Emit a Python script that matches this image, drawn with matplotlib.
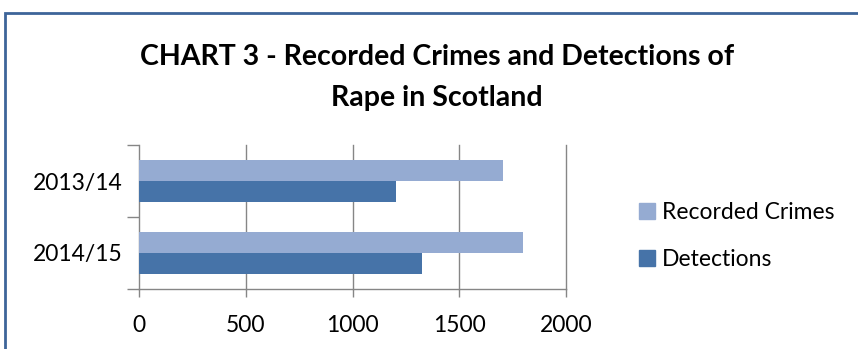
import numpy as np
import matplotlib.pyplot as plt
from matplotlib.patches import Rectangle, Patch

# data
years = ['2013/14', '2014/15']
recorded = [1707, 1797]
detections = [1205, 1325]
xticks = [0, 500, 1000, 1500, 2000]

c_rec = '#95abd2'
c_det = '#4673a8'
grid_c = '#868686'

plt.rcParams['font.family'] = ['Lato', 'DejaVu Sans']

fig = plt.figure(figsize=(8.58, 3.49), dpi=100)
W, H = 858, 349

# outer chart border (runs off right/bottom edge)
fig.patches.append(Rectangle((5 / W, -0.05), 1.1, 1 - 13 / H + 0.05,
                             transform=fig.transFigure, fill=False,
                             edgecolor='#3d6599', linewidth=2.0))

ax = fig.add_axes([139 / W, 1 - 289 / H, (566 - 139) / W, (289 - 145) / H])

pos = np.arange(len(years))[::-1]  # top category first
h = 0.2875
ax.barh(pos + h / 2, recorded, height=h, color=c_rec, zorder=3,
        label='Recorded Crimes')
ax.barh(pos - h / 2, detections, height=h, color=c_det, zorder=3,
        label='Detections')

ax.set_xlim(0, 2000)
ax.set_ylim(-0.5, 1.5)
ax.set_xticks(xticks)
ax.set_xticklabels([str(v) for v in xticks], fontsize=16.5)
for v in xticks[1:]:
    ax.axvline(v, color=grid_c, linewidth=1, zorder=1, clip_on=False)

ax.set_yticks([-0.5, 0.5, 1.5])
ax.set_yticklabels([])
ax.set_yticks(pos, minor=True)
ax.set_yticklabels(years, minor=True, fontsize=16.5)
ax.tick_params(axis='y', which='minor', length=0, pad=12)
ax.tick_params(axis='y', which='major', length=9, color=grid_c, width=1)
ax.tick_params(axis='x', length=6, color=grid_c, width=1, pad=13)

for s in ['top', 'right']:
    ax.spines[s].set_visible(False)
for s in ['left', 'bottom']:
    ax.spines[s].set_color(grid_c)
    ax.spines[s].set_linewidth(1)

fig.text(437 / W, 1 - 57 / H, 'CHART 3 - Recorded Crimes and Detections of',
         ha='center', va='center', fontsize=20.5, fontweight='bold')
fig.text(437 / W, 1 - 98 / H, 'Rape in Scotland',
         ha='center', va='center', fontsize=20.5, fontweight='bold')

handles = [Patch(color=c_rec, label='Recorded Crimes'),
           Patch(color=c_det, label='Detections')]
fig.legend(handles=handles, loc='center left', bbox_to_anchor=(618 / W, 1 - 236 / H),
           frameon=False, fontsize=16.5, handlelength=0.7, handleheight=0.7,
           handletextpad=0.3, labelspacing=1.1)

fig.savefig('out.png', dpi=100)
